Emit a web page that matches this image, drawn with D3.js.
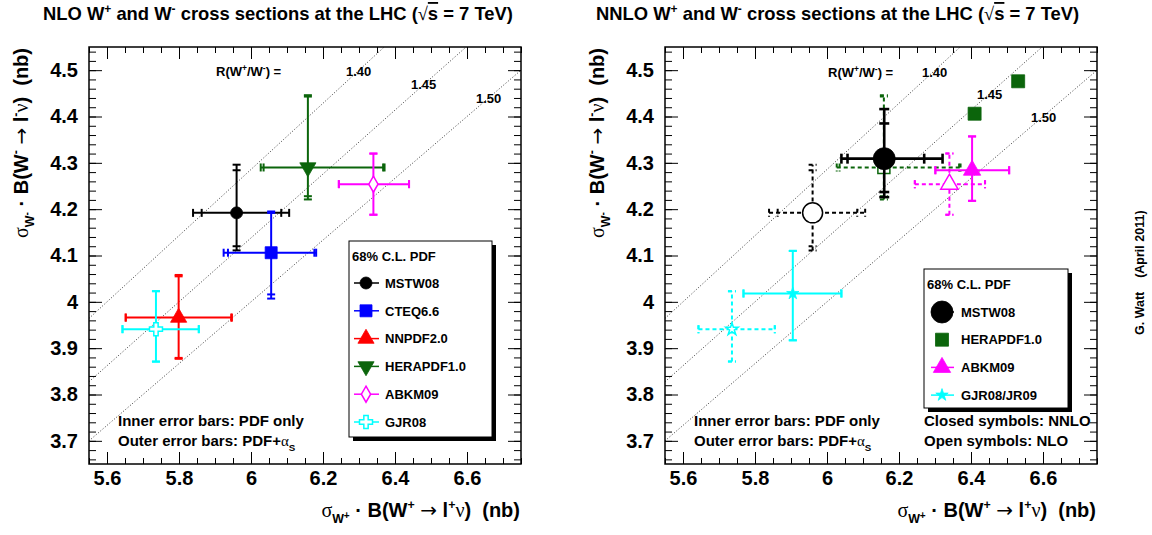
<!DOCTYPE html>
<html><head><meta charset="utf-8">
<script src="https://cdn.jsdelivr.net/npm/d3@7"></script>
<style>
body{margin:0;background:#fff;}
svg text{font-family:"Liberation Sans",Arial,Helvetica,sans-serif;font-weight:bold;fill:#000;white-space:pre;}
</style></head><body>
<svg id="c" width="1152" height="535"></svg>
<script>
// ---------------- data ----------------
const xTickValues = [5.6, 5.8, 6.0, 6.2, 6.4, 6.6];
const yTickValues = [3.7, 3.8, 3.9, 4.0, 4.1, 4.2, 4.3, 4.4, 4.5];
const ratioValues = [1.40, 1.45, 1.50];
const ratioLabels = ["1.40", "1.45", "1.50"];

// NLO predictions (left panel, and open symbols on right panel)
const nloSets        = ["MSTW08", "CTEQ6.6", "NNPDF2.0", "HERAPDF1.0", "ABKM09", "GJR08"];
const nloWplus       = [5.960, 6.056, 5.799, 6.158, 6.340, 5.736];
const nloWplusPdfLo  = [5.863, 5.936, 5.652, 6.035, 6.244, 5.643];
const nloWplusPdfHi  = [6.084, 6.176, 5.945, 6.367, 6.439, 5.855];
const nloWplusTotLo  = [5.839, 5.924, 5.652, 6.027, 6.244, 5.643];
const nloWplusTotHi  = [6.106, 6.181, 5.947, 6.371, 6.439, 5.855];
const nloWminus      = [4.192, 4.106, 3.966, 4.290, 4.254, 3.941];
const nloWminusPdfLo = [4.120, 4.016, 3.879, 4.228, 4.188, 3.871];
const nloWminusPdfHi = [4.284, 4.192, 4.055, 4.443, 4.320, 4.023];
const nloWminusTotLo = [4.111, 4.007, 3.877, 4.221, 4.188, 3.871];
const nloWminusTotHi = [4.296, 4.195, 4.058, 4.446, 4.320, 4.023];

// NNLO predictions (right panel, closed symbols)
const nnloSets        = ["MSTW08", "ABKM09", "GJR08/JR09"];
const nnloWplus       = [6.159, 6.403, 5.905];
const nnloWplusPdfLo  = [6.057, 6.301, 5.768];
const nnloWplusPdfHi  = [6.270, 6.506, 6.040];
const nnloWplusTotLo  = [6.040, 6.301, 5.768];
const nnloWplusTotHi  = [6.321, 6.506, 6.040];
const nnloWminus      = [4.309, 4.284, 4.018];
const nnloWminusPdfLo = [4.237, 4.218, 3.917];
const nnloWminusPdfHi = [4.385, 4.357, 4.110];
const nnloWminusTotLo = [4.226, 4.218, 3.917];
const nnloWminusTotHi = [4.416, 4.357, 4.110];
const heraNnloWplus  = [6.410, 6.531];
const heraNnloWminus = [4.406, 4.476];

const rightOpenSets = ["MSTW08", "HERAPDF1.0", "ABKM09", "GJR08"];
const rightLegendSets = ["MSTW08", "HERAPDF1.0", "ABKM09", "GJR08/JR09"];

// ---------------- styles ----------------
const GREEN = "#0b650b";
const nloStyle = {
  "MSTW08":     {color:"#000",    shape:"circle",   r:6},
  "CTEQ6.6":    {color:"#0000ff", shape:"square",   r:6},
  "NNPDF2.0":   {color:"#ff0000", shape:"triUp",    r:7},
  "HERAPDF1.0": {color:GREEN,     shape:"triDown",  r:7},
  "ABKM09":     {color:"#ff00ff", shape:"diamond",  r:8, open:true},
  "GJR08":      {color:"#00ffff", shape:"cross",    r:6.5, open:true}
};
const rightOpenStyle = {
  "MSTW08":     {color:"#000",    shape:"circle",  r:10, open:true},
  "HERAPDF1.0": {color:GREEN,     shape:"square",  r:6, open:true},
  "ABKM09":     {color:"#ff00ff", shape:"triUp",   r:7.5, open:true},
  "GJR08":      {color:"#00ffff", shape:"star",    r:6.5, open:true}
};
const nnloStyle = {
  "MSTW08":     {color:"#000",    shape:"circle",  r:11, lw:2.6, cap:5},
  "ABKM09":     {color:"#ff00ff", shape:"triUp",   r:7.5},
  "GJR08/JR09": {color:"#00ffff", shape:"star",    r:6.5},
  "HERAPDF1.0": {color:GREEN,     shape:"square",  r:6.5}
};

// ---------------- helpers ----------------
const svg = d3.select("#c");
function markerPath(shape, r) {
  switch (shape) {
    case "circle": return d3.symbol(d3.symbolCircle, Math.PI*r*r)();
    case "square": return d3.symbol(d3.symbolSquare, 4*r*r)();
    case "triUp": case "triDown": {
      const h = 2*r; return d3.symbol(d3.symbolTriangle, h*h/Math.sqrt(3))();
    }
    case "diamond": { const y = r; return d3.symbol(d3.symbolDiamond, y*y*2*Math.tan(Math.PI/6))(); }
    case "cross": { const a = r/1.5; return d3.symbol(d3.symbolCross, 5*a*a)(); }
    case "star": return d3.symbol(d3.symbolStar, r*r/0.8908130915292852)();
  }
}
function drawMarker(g, cx, cy, st) {
  g.append("path").attr("d", markerPath(st.shape, st.r))
    .attr("transform", `translate(${cx},${cy})` + (st.shape==="triDown" ? " rotate(180)" : ""))
    .attr("fill", st.open ? "#fff" : st.color)
    .attr("stroke", st.color).attr("stroke-width", st.open ? 1.5 : 0.8);
}
function drawPoint(g, sx, sy, p, st, dashed) {
  const lw = st.lw || 2, cap = st.cap || 4;
  const cx = sx(p.x), cy = sy(p.y);
  const line = (x1,y1,x2,y2) => g.append("line").attr("x1",x1).attr("y1",y1).attr("x2",x2).attr("y2",y2)
      .attr("stroke", st.color).attr("stroke-width", lw)
      .attr("stroke-dasharray", dashed ? "4,3" : null);
  line(sx(p.xTot[0]), cy, sx(p.xTot[1]), cy);
  line(cx, sy(p.yTot[0]), cx, sy(p.yTot[1]));
  [p.xPdf[0], p.xPdf[1], p.xTot[0], p.xTot[1]].forEach(v => line(sx(v), cy-cap, sx(v), cy+cap));
  [p.yPdf[0], p.yPdf[1], p.yTot[0], p.yTot[1]].forEach(v => line(cx-cap, sy(v), cx+cap, sy(v)));
  drawMarker(g, cx, cy, st);
}
function rich(sel, parts, size) {
  let shift = 0;
  parts.forEach(p => {
    const target = (p.dy || 0) * size;
    const ts = sel.append("tspan").text(p.t).attr("dy", target - shift);
    shift = target;
    if (p.s) ts.attr("font-size", size * p.s);
    if (p.sym) ts.style("font-weight", "normal").style("font-family", "'Liberation Serif','DejaVu Serif',serif");
    if (p.arrow) ts.style("font-weight", "normal").style("font-family", "'DejaVu Sans',sans-serif");
    if (p.over) ts.style("text-decoration", "overline");
  });
}
function collect(sets, xs, xpl, xph, xtl, xth, ys, ypl, yph, ytl, yth) {
  return sets.map((n,i) => ({name:n, x:xs[i], xPdf:[xpl[i],xph[i]], xTot:[xtl[i],xth[i]],
    y:ys[i], yPdf:[ypl[i],yph[i]], yTot:[ytl[i],yth[i]]}));
}
const nloData = collect(nloSets, nloWplus, nloWplusPdfLo, nloWplusPdfHi, nloWplusTotLo, nloWplusTotHi,
  nloWminus, nloWminusPdfLo, nloWminusPdfHi, nloWminusTotLo, nloWminusTotHi);
const nnloData = collect(nnloSets, nnloWplus, nnloWplusPdfLo, nnloWplusPdfHi, nnloWplusTotLo, nnloWplusTotHi,
  nnloWminus, nnloWminusPdfLo, nnloWminusPdfHi, nnloWminusTotLo, nnloWminusTotHi);

// ---------------- panels ----------------
const xDomain = [5.55, 6.75], yDomain = [3.65, 4.55];
const panelX = [89, 665], panelW = 432, plotTop = 47, plotBottom = 464;

function drawPanel(idx) {
  const ox = panelX[idx];
  const sx = d3.scaleLinear().domain(xDomain).range([ox, ox + panelW]);
  const sy = d3.scaleLinear().domain(yDomain).range([plotBottom, plotTop]);
  const g = svg.append("g");
  const fmt = d3.format("~g");

  const cid = "clip" + idx;
  svg.append("clipPath").attr("id", cid).append("rect")
    .attr("x", ox).attr("y", plotTop).attr("width", panelW).attr("height", plotBottom - plotTop);

  // ratio lines
  const gl = g.append("g").attr("clip-path", `url(#${cid})`);
  ratioValues.forEach(R => {
    const pts = xDomain.map(x => [sx(x), sy(x / R)]);
    gl.append("path").attr("d", d3.line()(pts)).attr("fill", "none")
      .attr("stroke", "#222").attr("stroke-width", 0.9).attr("stroke-dasharray", "1,2");
  });

  // axes (ticks inside frame on all sides)
  const styleAxis = a => { a.select(".domain").remove(); a.selectAll("text").attr("font-size", 20); a.attr("font-family", null); };
  g.append("g").attr("transform", `translate(0,${plotBottom})`)
    .call(d3.axisBottom(sx).tickValues(xTickValues).tickSize(-12).tickSizeOuter(0).tickPadding(7).tickFormat(fmt)).call(styleAxis);
  g.append("g").attr("transform", `translate(0,${plotBottom})`)
    .call(d3.axisBottom(sx).tickValues(sx.ticks(24)).tickSize(-6).tickSizeOuter(0).tickFormat("")).call(styleAxis);
  g.append("g").attr("transform", `translate(0,${plotTop})`)
    .call(d3.axisTop(sx).tickValues(xTickValues).tickSize(-12).tickSizeOuter(0).tickFormat("")).call(styleAxis);
  g.append("g").attr("transform", `translate(0,${plotTop})`)
    .call(d3.axisTop(sx).tickValues(sx.ticks(24)).tickSize(-6).tickSizeOuter(0).tickFormat("")).call(styleAxis);
  g.append("g").attr("transform", `translate(${ox},0)`)
    .call(d3.axisLeft(sy).tickValues(yTickValues).tickSize(-13).tickSizeOuter(0).tickPadding(11).tickFormat(fmt)).call(styleAxis);
  g.append("g").attr("transform", `translate(${ox},0)`)
    .call(d3.axisLeft(sy).tickValues(sy.ticks(45)).tickSize(-7).tickSizeOuter(0).tickFormat("")).call(styleAxis);
  g.append("g").attr("transform", `translate(${ox + panelW},0)`)
    .call(d3.axisRight(sy).tickValues(yTickValues).tickSize(-13).tickSizeOuter(0).tickFormat("")).call(styleAxis);
  g.append("g").attr("transform", `translate(${ox + panelW},0)`)
    .call(d3.axisRight(sy).tickValues(sy.ticks(45)).tickSize(-7).tickSizeOuter(0).tickFormat("")).call(styleAxis);

  g.append("rect").attr("x", ox).attr("y", plotTop).attr("width", panelW).attr("height", plotBottom - plotTop)
    .attr("fill", "none").attr("stroke", "#000").attr("stroke-width", 1.5);

  // title
  rich(svg.append("text").attr("x", idx ? 596 : 43).attr("y", 20).attr("font-size", 18.4),
    [{t: (idx ? "NNLO" : "NLO") + " W"}, {t:"+", dy:-0.4, s:0.65}, {t:" and W"}, {t:"-", dy:-0.4, s:0.65},
     {t:" cross sections at the LHC ("}, {t:"√", sym:true}, {t:"s", over:true}, {t:" = 7 TeV)"}], 18.4);

  // axis titles
  rich(svg.append("text").attr("x", ox + panelW - 1).attr("y", 517).attr("text-anchor", "end").attr("font-size", 20),
    [{t:"σ", sym:true}, {t:"W", dy:0.3, s:0.62}, {t:"+", dy:0.12, s:0.5}, {t:" · B(W"}, {t:"+", dy:-0.4, s:0.62},
     {t:" "}, {t:"→", arrow:true}, {t:" l"}, {t:"+", dy:-0.4, s:0.62}, {t:"ν", sym:true}, {t:")  (nb)"}], 20);
  rich(svg.append("text").attr("transform", `translate(${ox - 61},48) rotate(-90)`).attr("text-anchor", "end").attr("font-size", 20),
    [{t:"σ", sym:true}, {t:"W", dy:0.3, s:0.62}, {t:"-", dy:0.12, s:0.5}, {t:" · B(W"}, {t:"-", dy:-0.4, s:0.62},
     {t:" "}, {t:"→", arrow:true}, {t:" l"}, {t:"-", dy:-0.4, s:0.62}, {t:"ν", sym:true}, {t:")  (nb)"}], 20);

  // ratio labels
  const rl = idx ? {rx:828, ry:77, pos:[[922,77],[977,99],[1031,122]]}
                 : {rx:216, ry:76, pos:[[346,76],[411,89],[476,103]]};
  rich(svg.append("text").attr("x", rl.rx).attr("y", rl.ry).attr("font-size", 13),
    [{t:"R(W"}, {t:"+", dy:-0.4, s:0.65}, {t:"/W"}, {t:"-", dy:-0.4, s:0.65}, {t:") ="}], 13);
  ratioLabels.forEach((lab, i) => svg.append("text").attr("x", rl.pos[i][0]).attr("y", rl.pos[i][1]).attr("font-size", 13).text(lab));

  // notes
  const nx = idx ? 694 : 118;
  svg.append("text").attr("x", nx).attr("y", 426).attr("font-size", 15).text("Inner error bars: PDF only");
  rich(svg.append("text").attr("x", nx).attr("y", 446).attr("font-size", 15),
    [{t:"Outer error bars: PDF+"}, {t:"α", sym:true}, {t:"S", dy:0.3, s:0.65}], 15);

  const gp = g.append("g");
  if (idx === 0) {
    nloData.forEach(p => drawPoint(gp, sx, sy, p, nloStyle[p.name], false));
  } else {
    svg.append("text").attr("x", 924).attr("y", 426).attr("font-size", 15).text("Closed symbols: NNLO");
    svg.append("text").attr("x", 924).attr("y", 446).attr("font-size", 15).text("Open symbols: NLO");
    nloData.filter(p => rightOpenSets.includes(p.name))
      .forEach(p => drawPoint(gp, sx, sy, p, rightOpenStyle[p.name], true));
    heraNnloWplus.forEach((xv, i) => drawMarker(gp, sx(xv), sy(heraNnloWminus[i]), nnloStyle["HERAPDF1.0"]));
    nnloData.forEach(p => drawPoint(gp, sx, sy, p, nnloStyle[p.name], false));
  }

  // legend
  const lg = svg.append("g");
  const L = idx ? {x:924, y:269, w:144, h:139, tx:927, ty:289, ey:312, dy:27.7, mx:942, l0:931, l1:954, txt:961}
                : {x:349, y:241, w:143, h:196, tx:352, ty:261, ey:283, dy:27.8, mx:366, l0:354, l1:379, txt:385};
  lg.append("rect").attr("x", L.x + 4).attr("y", L.y + 4).attr("width", L.w).attr("height", L.h).attr("fill", "#000");
  lg.append("rect").attr("x", L.x).attr("y", L.y).attr("width", L.w).attr("height", L.h)
    .attr("fill", "#fff").attr("stroke", "#000").attr("stroke-width", 1);
  lg.append("text").attr("x", L.tx).attr("y", L.ty).attr("font-size", 13).text("68% C.L. PDF");
  const names = idx ? rightLegendSets : nloSets;
  names.forEach((n, i) => {
    const st = idx ? nnloStyle[n] : nloStyle[n];
    const yy = L.ey + i * L.dy;
    if (!(idx && n === "HERAPDF1.0"))
      lg.append("line").attr("x1", L.l0).attr("x2", L.l1).attr("y1", yy).attr("y2", yy)
        .attr("stroke", st.color).attr("stroke-width", 1.5);
    drawMarker(lg, L.mx, yy, st);
    lg.append("text").attr("x", L.txt).attr("y", yy + 4.7).attr("font-size", 13).text(n);
  });
}
drawPanel(0);
drawPanel(1);

svg.append("text").attr("transform", "translate(1144,335) rotate(-90)").attr("font-size", 12.5)
  .text("G. Watt    (April 2011)");
</script>
</body></html>
